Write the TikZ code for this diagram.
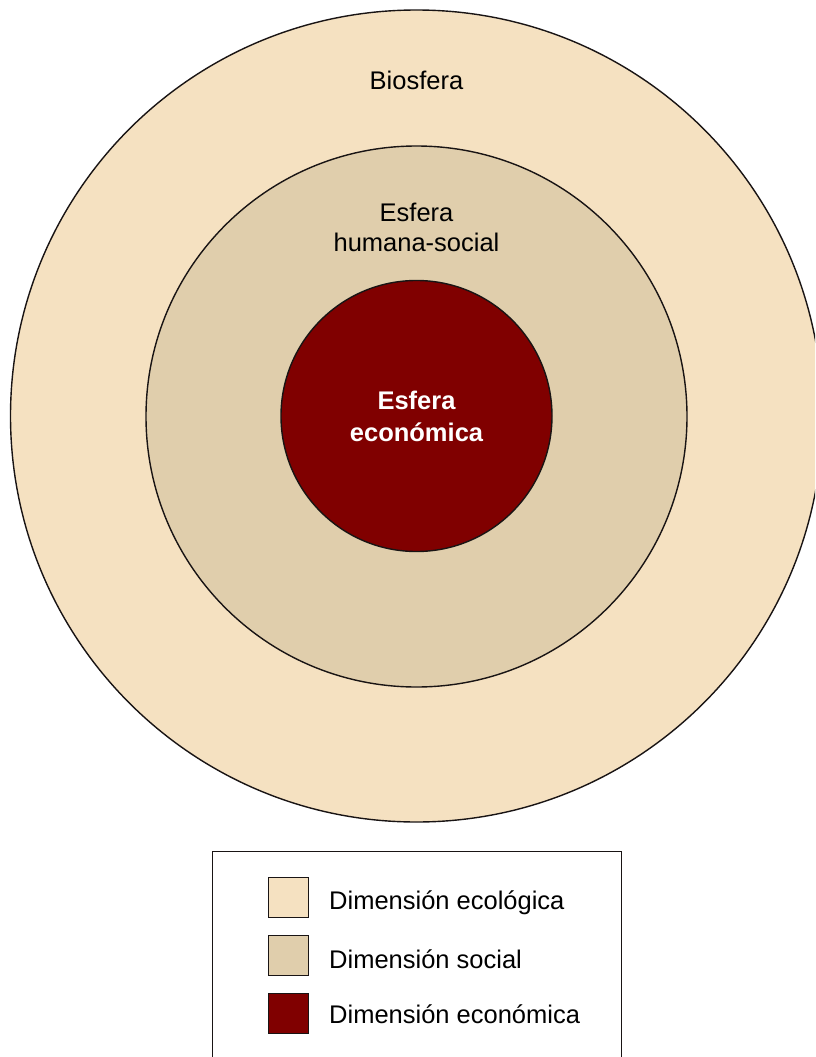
\documentclass[tikz,border=0pt]{standalone}
\usepackage{fontspec}
\setmainfont{Liberation Sans}
\definecolor{ecol}{RGB}{245,225,193}
\definecolor{soc}{RGB}{224,206,172}
\definecolor{econ}{RGB}{128,0,0}
\definecolor{edge}{RGB}{25,20,20}
\begin{document}
\begin{tikzpicture}[x=1pt,y=-1pt,
  ring/.style={circle,draw=edge,line width=1.4pt,inner sep=0pt},
  lbl/.style={font=\fontsize{25.5}{30}\selectfont,align=center,inner sep=0pt},
  swatch/.style={draw=edge,line width=1.4pt,minimum width=40pt,minimum height=40pt,inner sep=0pt},
  legtxt/.style={font=\fontsize{25.5}{30}\selectfont,anchor=west,inner sep=0pt}]
\useasboundingbox (0,0) rectangle (815,1057);
\begin{scope}
\clip (0,0) rectangle (815,1057);
\node[ring,fill=ecol,minimum size=812pt] (bio) at (416.5,416) {};
\node[ring,fill=soc,minimum size=541pt] (hum) at (416.5,416.5) {};
\node[ring,fill=econ,minimum size=271pt] (eco) at (416.5,416) {};
\node[lbl] (tbio) at (416.5,80) {Biosfera};
\node[lbl] (thum) at (416.5,227) {Esfera\\humana-social};
\node[lbl,text=white,font=\fontsize{25.5}{32}\bfseries\selectfont] (teco) at (416.5,416) {Esfera\\económica};
\draw[edge,line width=1.4pt,fill=white] (212.5,851.5) rectangle (621.5,1070);
\node[swatch,fill=ecol] (s1) at (288.5,897.5) {};
\node[swatch,fill=soc] (s2) at (288.5,955.5) {};
\node[swatch,fill=econ] (s3) at (288.5,1013.5) {};
\node[legtxt] (l1) at (329,903) {Dimensión ecológica};
\node[legtxt] (l2) at (329,959) {Dimensión social};
\node[legtxt] (l3) at (329,1014) {Dimensión económica};
\end{scope}
\end{tikzpicture}
\end{document}
